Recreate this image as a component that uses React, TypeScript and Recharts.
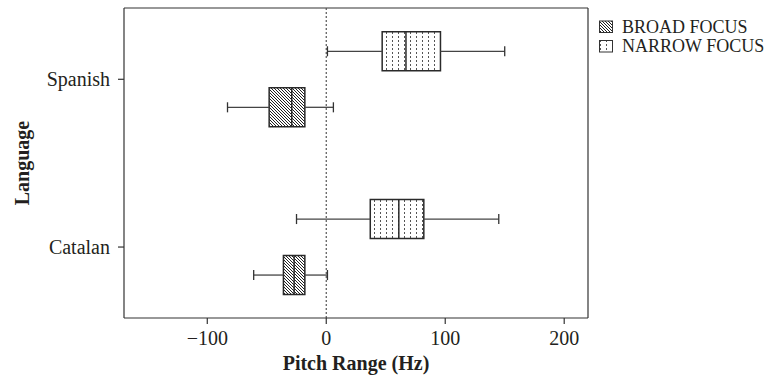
import {
  ComposedChart,
  XAxis,
  YAxis,
  Scatter,
  ReferenceArea,
  ReferenceLine,
  Legend,
  Label,
} from "recharts";

const languages = ["Catalan", "Spanish"];
const languagePos = [1, 2];
const focusNames = ["BROAD FOCUS", "NARROW FOCUS"];

// box plot stats, one value per language (Catalan, Spanish)
const broadMin = [-61, -83];
const broadQ1 = [-36, -48];
const broadMedian = [-27, -29];
const broadQ3 = [-18, -18];
const broadMax = [1, 6];

const narrowMin = [-25, 1];
const narrowQ1 = [37, 47];
const narrowMedian = [61, 67];
const narrowQ3 = [82, 96];
const narrowMax = [145, 150];

const xTicks = [-100, 0, 100, 200];
const xDomain = [-170, 220];
const yDomain = [0.577, 2.425];

const FONT = "'Liberation Serif', 'Times New Roman', serif";
const INK = "#231f20";
const FRAME = "#333";
const BOX_HALF = 0.116;
const CAP_HALF = 0.03;
const GROUP_SHIFT = 0.167;

type Box = {
  key: string;
  y: number;
  min: number;
  q1: number;
  median: number;
  q3: number;
  max: number;
  fill: string;
};

const boxes: Box[] = [];
languages.forEach((lang, i) => {
  boxes.push({
    key: lang + "-broad",
    y: languagePos[i] - GROUP_SHIFT,
    min: broadMin[i],
    q1: broadQ1[i],
    median: broadMedian[i],
    q3: broadQ3[i],
    max: broadMax[i],
    fill: "url(#hatch)",
  });
  boxes.push({
    key: lang + "-narrow",
    y: languagePos[i] + GROUP_SHIFT,
    min: narrowMin[i],
    q1: narrowQ1[i],
    median: narrowMedian[i],
    q3: narrowQ3[i],
    max: narrowMax[i],
    fill: "url(#dots)",
  });
});

const medianPoints = boxes.map((b) => ({ x: b.median, y: b.y }));

const formatX = (v: number) => (v < 0 ? "\u2212" + Math.abs(v) : String(v));
const formatY = (v: number) => languages[languagePos.indexOf(v)] ?? "";

const tickStyle = { fill: INK, fontSize: 20, fontFamily: FONT };

function XTitle(props: any) {
  const vb = props.viewBox;
  return (
    <text
      x={vb.x + vb.width / 2}
      y={vb.y + 52}
      textAnchor="middle"
      fontFamily={FONT}
      fontSize={20}
      fontWeight="bold"
      fill={INK}
    >
      Pitch Range (Hz)
    </text>
  );
}

function YTitle(props: any) {
  const vb = props.viewBox;
  const cy = vb.y + vb.height / 2;
  return (
    <text
      x={29}
      y={cy}
      transform={`rotate(-90, 29, ${cy})`}
      textAnchor="middle"
      fontFamily={FONT}
      fontSize={20}
      fontWeight="bold"
      fill={INK}
    >
      Language
    </text>
  );
}

function FocusLegend() {
  const fills = ["url(#hatch)", "url(#dots)"];
  return (
    <svg width={190} height={44} style={{ overflow: "visible" }}>
      {focusNames.map((name, i) => (
        <g key={name}>
          <rect
            x={1.5}
            y={1 + i * 19.5}
            width={13}
            height={11.5}
            fill={fills[i]}
            stroke="#333"
            strokeWidth={1}
          />
          <text
            x={24}
            y={12.5 + i * 19.5}
            fontFamily={FONT}
            fontSize={18}
            fill={INK}
          >
            {name}
          </text>
        </g>
      ))}
    </svg>
  );
}

export default function App() {
  return (
    <div
      style={{
        position: "fixed",
        left: 0,
        top: 0,
        width: 784,
        height: 378,
        overflow: "hidden",
        background: "#fff",
      }}
    >
      <ComposedChart
        width={784}
        height={378}
        margin={{ top: 8, right: 196, bottom: 0, left: 0 }}
      >
        <defs>
          <pattern
            id="hatch"
            patternUnits="userSpaceOnUse"
            width={3}
            height={3}
          >
            <rect width={3} height={3} fill="#fff" />
            <path
              d="M0,0 L3,3 M2,-1 L4,1 M-1,2 L1,4"
              stroke="#222"
              strokeWidth={1}
            />
          </pattern>
          <pattern id="dots" patternUnits="userSpaceOnUse" width={6} height={4}>
            <rect width={6} height={4} fill="#fff" />
            <rect x={2} y={0} width={1} height={2} fill="#555" />
          </pattern>
        </defs>
        <XAxis
          type="number"
          dataKey="x"
          domain={xDomain}
          ticks={xTicks}
          tickFormatter={formatX}
          tick={tickStyle}
          tickSize={6}
          tickMargin={7}
          height={60}
          axisLine={{ stroke: FRAME, strokeWidth: 1.2 }}
          tickLine={{ stroke: FRAME, strokeWidth: 1.2 }}
          allowDataOverflow
        >
          <Label content={XTitle} />
        </XAxis>
        <YAxis
          type="number"
          dataKey="y"
          domain={yDomain}
          ticks={languagePos}
          tickFormatter={formatY}
          tick={tickStyle}
          tickSize={6}
          tickMargin={8}
          width={124}
          axisLine={{ stroke: FRAME, strokeWidth: 1.2 }}
          tickLine={{ stroke: FRAME, strokeWidth: 1.2 }}
          allowDataOverflow
        >
          <Label content={YTitle} />
        </YAxis>
        {/* top and right frame */}
        <ReferenceLine y={yDomain[1]} stroke={FRAME} strokeWidth={1.2} />
        <ReferenceLine x={xDomain[1]} stroke={FRAME} strokeWidth={1.2} />
        <ReferenceLine
          x={0}
          stroke="#555"
          strokeWidth={1.2}
          strokeDasharray="2 2"
        />
        {boxes.map((b) => (
          <ReferenceLine
            key={b.key + "-wl"}
            segment={[
              { x: b.min, y: b.y },
              { x: b.q1, y: b.y },
            ]}
            stroke="#444"
            strokeWidth={1.3}
          />
        ))}
        {boxes.map((b) => (
          <ReferenceLine
            key={b.key + "-wr"}
            segment={[
              { x: b.q3, y: b.y },
              { x: b.max, y: b.y },
            ]}
            stroke="#444"
            strokeWidth={1.3}
          />
        ))}
        {boxes.map((b) => (
          <ReferenceLine
            key={b.key + "-cl"}
            segment={[
              { x: b.min, y: b.y - CAP_HALF },
              { x: b.min, y: b.y + CAP_HALF },
            ]}
            stroke="#333"
            strokeWidth={1.3}
          />
        ))}
        {boxes.map((b) => (
          <ReferenceLine
            key={b.key + "-cr"}
            segment={[
              { x: b.max, y: b.y - CAP_HALF },
              { x: b.max, y: b.y + CAP_HALF },
            ]}
            stroke="#333"
            strokeWidth={1.3}
          />
        ))}
        {boxes.map((b) => (
          <ReferenceArea
            key={b.key + "-box"}
            x1={b.q1}
            x2={b.q3}
            y1={b.y - BOX_HALF}
            y2={b.y + BOX_HALF}
            fill={b.fill}
            fillOpacity={1}
            stroke="#2a2a2a"
            strokeWidth={1.5}
          />
        ))}
        {boxes.map((b) => (
          <ReferenceLine
            key={b.key + "-med"}
            segment={[
              { x: b.median, y: b.y - BOX_HALF },
              { x: b.median, y: b.y + BOX_HALF },
            ]}
            stroke="#2a2a2a"
            strokeWidth={1.5}
          />
        ))}
        <Scatter
          data={medianPoints}
          fill="none"
          shape={() => <g />}
          isAnimationActive={false}
        />
        <Legend
          layout="vertical"
          align="center"
          verticalAlign="middle"
          content={FocusLegend}
          wrapperStyle={{ position: "absolute", left: 598, top: 20, width: 190 }}
        />
      </ComposedChart>
    </div>
  );
}
